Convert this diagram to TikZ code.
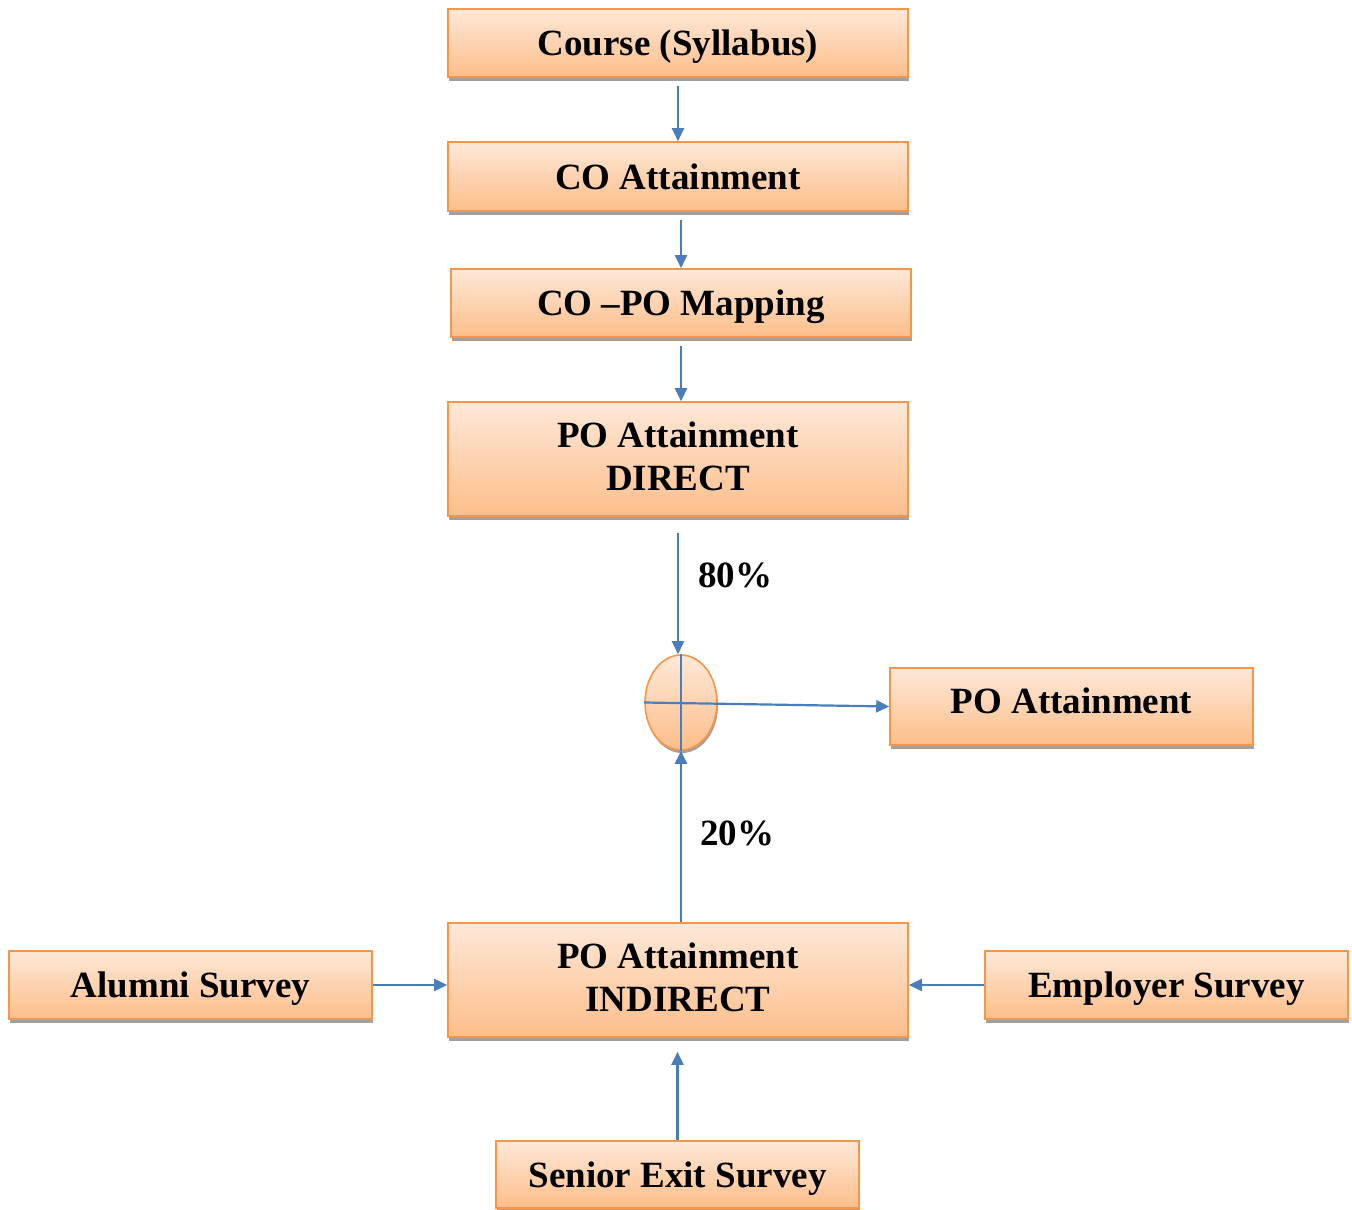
\documentclass[tikz,border=0pt]{standalone}
\usepackage{fontspec}
\setmainfont{Liberation Serif}
\usetikzlibrary{arrows.meta,shadows,shapes.geometric}
\definecolor{boxtop}{HTML}{FEE8D8}
\definecolor{boxbot}{HTML}{FCBE8A}
\definecolor{boxline}{HTML}{F79646}
\definecolor{arrowc}{HTML}{4A7EBB}
\definecolor{shadowc}{HTML}{A0A0A0}
\tikzset{
  box/.style={rectangle, draw=boxline, line width=1.6pt, top color=boxtop, bottom color=boxbot,
    drop shadow={shadow xshift=1pt, shadow yshift=-4pt, fill=shadowc, opacity=1},
    inner sep=0pt, align=center, font=\bfseries\fontsize{37}{43}\selectfont},
  oneline/.style={text depth=0pt},
  twoline/.style={text depth=6pt},
  conn/.style={draw=arrowc, line width=2.2pt, -{Triangle[length=13pt,width=12pt]}},
  cross/.style={draw=arrowc, line width=2.2pt},
  pct/.style={font=\bfseries\fontsize{37}{43}\selectfont, inner sep=0pt}
}
\begin{document}
\begin{tikzpicture}[x=1pt,y=-1pt]
\useasboundingbox (0,0) rectangle (1352,1210);
\node[box, oneline, minimum width=460pt, minimum height=68pt] (course) at (678,43) {Course (Syllabus)};
\node[box, oneline, minimum width=460pt, minimum height=69pt] (co) at (678,176.5) {CO Attainment};
\node[box, oneline, minimum width=460pt, minimum height=68pt] (copo) at (681,303) {CO --PO Mapping};
\node[box, twoline, minimum width=460pt, minimum height=114pt] (direct) at (678,459) {PO Attainment\\DIRECT};
\node[ellipse, draw=boxline, line width=1.6pt, top color=boxtop, bottom color=boxbot,
  drop shadow={shadow xshift=1pt, shadow yshift=-3pt, fill=shadowc, opacity=1},
  minimum width=72pt, minimum height=95pt, inner sep=0pt] (circ) at (681,702.5) {};
\node[box, text depth=12pt, minimum width=363pt, minimum height=77pt] (po) at (1071.5,706.5) {PO Attainment};
\node[box, twoline, minimum width=460pt, minimum height=114pt] (indirect) at (678,980) {PO Attainment\\INDIRECT};
\node[box, oneline, minimum width=363pt, minimum height=68pt] (alumni) at (190.5,985) {Alumni Survey};
\node[box, oneline, minimum width=363pt, minimum height=68pt] (employer) at (1166.5,985) {Employer Survey};
\node[box, oneline, minimum width=363pt, minimum height=67pt] (senior) at (677.5,1174.5) {Senior Exit Survey};
\node[pct] (p80) at (735,575) {80\%};
\node[pct] (p20) at (737,833) {20\%};
% connectors
\draw[conn, shorten <=8pt] (course.south) -- (co.north);
\draw[conn, shorten <=8pt] (co.south -| copo.north) -- (copo.north);
\draw[conn, shorten <=8pt] (copo.south) -- (direct.north -| copo.south);
\draw[conn, shorten <=16pt] (direct.south) -- (direct.south |- circ.north);
\draw[conn] (indirect.north -| circ.south) -- (circ.south);
\draw[cross] (circ.north) -- (circ.south);
\draw[conn] (circ.west) -- (po.west);
\draw[conn] (alumni.east) -- (indirect.west |- alumni.east);
\draw[conn] (employer.west) -- (indirect.east |- employer.west);
\draw[conn, shorten >=14pt] (senior.north) -- (indirect.south -| senior.north);
\end{tikzpicture}
\end{document}
